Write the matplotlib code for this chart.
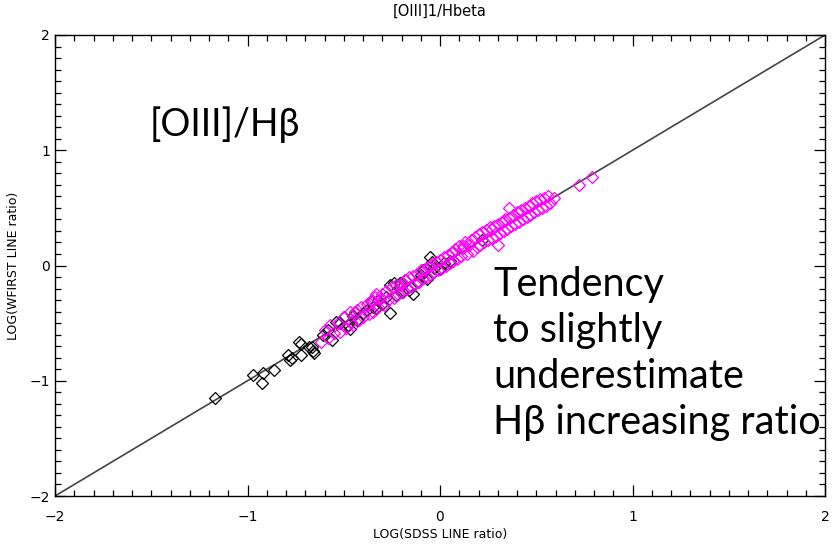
import matplotlib
matplotlib.use("Agg")
import matplotlib.pyplot as plt
from matplotlib.ticker import MultipleLocator

# ---------------- data ----------------
black_x = [-1.17, -0.97, -0.92, -0.925, -0.86, -0.79, -0.78, -0.77, -0.72, -0.72,
           -0.665, -0.655, -0.66, -0.73, -0.68, -0.61, -0.56, -0.54, -0.50, -0.45,
           -0.48, -0.52, -0.40, -0.38, -0.35, -0.32, -0.30, -0.26, -0.26, -0.23,
           -0.24, -0.21, -0.20, -0.16, -0.14, -0.12, -0.10, -0.07, -0.09, -0.05,
           -0.04, -0.03, 0.00, 0.02, 0.05, 0.22, -0.44, -0.47, -0.58, -0.28,
           -0.36, -0.18, -0.33, -0.43]
black_y = [-1.15, -0.95, -0.93, -1.02, -0.91, -0.78, -0.82, -0.80, -0.68, -0.78,
           -0.71, -0.76, -0.74, -0.66, -0.71, -0.60, -0.65, -0.49, -0.45, -0.44,
           -0.52, -0.50, -0.41, -0.39, -0.36, -0.30, -0.33, -0.41, -0.17, -0.26,
           -0.15, -0.15, -0.23, -0.21, -0.25, -0.14, -0.08, -0.12, -0.04, 0.07,
           0.03, -0.02, -0.03, 0.02, 0.04, 0.22, -0.40, -0.55, -0.56, -0.27,
           -0.31, -0.13, -0.37, -0.47]

mag_x = [-0.62, -0.60, -0.58, -0.57, -0.55, -0.53, -0.52, -0.50, -0.49, -0.47,
         -0.46, -0.45, -0.43, -0.42, -0.41, -0.40, -0.38, -0.37, -0.36, -0.35,
         -0.34, -0.33, -0.32, -0.31, -0.30, -0.29, -0.28, -0.27, -0.25, -0.24,
         -0.23, -0.22, -0.20, -0.19, -0.18, -0.17, -0.16, -0.15, -0.14, -0.13,
         -0.12, -0.11, -0.10, -0.09, -0.08, -0.07, -0.06, -0.05, -0.04, -0.03,
         -0.02, -0.01, 0.00, 0.01, 0.02, 0.03, 0.04, 0.05, 0.06, 0.07,
         0.08, 0.09, 0.10, 0.11, 0.12, 0.13, 0.14, 0.15, 0.16, 0.17,
         0.18, 0.19, 0.20, 0.21, 0.22, 0.23, 0.24, 0.25, 0.26, 0.27,
         0.28, 0.29, 0.30, 0.30, 0.31, 0.32, 0.33, 0.34, 0.35, 0.36,
         0.36, 0.37, 0.38, 0.39, 0.40, 0.41, 0.42, 0.43, 0.44, 0.45,
         0.46, 0.47, 0.48, 0.49, 0.50, 0.51, 0.52, 0.53, 0.54, 0.55,
         0.56, 0.57, 0.59, 0.72, 0.79, -0.44, -0.21, 0.06, 0.27, 0.47,
         -0.35, 0.12, 0.41, -0.05, 0.33]
mag_y = [-0.66, -0.56, -0.63, -0.52, -0.59, -0.50, -0.58, -0.45, -0.54, -0.40,
         -0.49, -0.52, -0.39, -0.47, -0.36, -0.45, -0.33, -0.42, -0.31, -0.40,
         -0.27, -0.25, -0.36, -0.29, -0.25, -0.34, -0.22, -0.30, -0.19, -0.28,
         -0.17, -0.25, -0.15, -0.23, -0.13, -0.20, -0.10, -0.18, -0.09, -0.16,
         -0.07, -0.14, -0.04, -0.11, -0.03, -0.10, -0.01, -0.08, 0.01, -0.06,
         0.03, -0.04, 0.05, -0.02, 0.07, 0.00, 0.09, 0.02, 0.12, 0.04,
         0.14, 0.06, 0.17, 0.08, 0.15, 0.20, 0.10, 0.18, 0.22, 0.13,
         0.25, 0.16, 0.27, 0.18, 0.29, 0.20, 0.31, 0.22, 0.33, 0.24,
         0.34, 0.26, 0.18, 0.36, 0.28, 0.38, 0.30, 0.40, 0.32, 0.50,
         0.41, 0.34, 0.44, 0.36, 0.46, 0.38, 0.48, 0.40, 0.50, 0.42,
         0.52, 0.44, 0.54, 0.46, 0.56, 0.48, 0.58, 0.50, 0.59, 0.52,
         0.60, 0.54, 0.59, 0.70, 0.77, -0.40, -0.17, 0.11, 0.32, 0.52,
         -0.31, 0.17, 0.46, 0.00, 0.39]

x_ticks = [-2, -1, 0, 1, 2]
y_ticks = [-2, -1, 0, 1, 2]
title = "[OIII]1/Hbeta"
xlabel = "LOG(SDSS LINE ratio)"
ylabel = "LOG(WFIRST LINE ratio)"

# ---------------- figure ----------------
W, H = 840, 548
fig = plt.figure(figsize=(W / 100, H / 100), dpi=100)
ax = fig.add_axes([55 / W, 1 - 496 / H, (825 - 55) / W, (496 - 35) / H])

ax.plot([-2, 2], [-2, 2], color="#444444", lw=1.2, zorder=1)
ax.plot(black_x, black_y, linestyle="none", marker="D", ms=6.3, mfc="none",
        mec="black", mew=0.9, zorder=2)
ax.plot(mag_x, mag_y, linestyle="none", marker="D", ms=6.3, mfc="none",
        mec="#ff00ff", mew=0.9, zorder=3)

ax.set_xlim(-2, 2)
ax.set_ylim(-2, 2)
ax.set_xticks(x_ticks)
ax.set_yticks(y_ticks)
ax.xaxis.set_minor_locator(MultipleLocator(0.1))
ax.yaxis.set_minor_locator(MultipleLocator(0.1))
ax.tick_params(which="both", direction="in", top=True, right=True,
               labelsize=10, width=0.9, color="black")
ax.tick_params(axis="x", which="major", pad=10)
ax.tick_params(which="major", length=8)
ax.tick_params(which="minor", length=4)
for s in ax.spines.values():
    s.set_linewidth(1.0)

ax.set_title(title, fontsize=10.5, pad=14)
ax.set_xlabel(xlabel, fontsize=9, labelpad=3)
ax.set_ylabel(ylabel, fontsize=9)
ax.yaxis.set_label_coords(-35 / 770, 0.5)

fam = ["Lato", "DejaVu Sans"]
fig.text(150 / W, 1 - 125 / H, "[OIII]/Hβ", fontsize=27, family=fam,
         ha="left", va="center")
fig.text(493 / W, 1 - 266 / H,
         "Tendency\nto slightly\nunderestimate\nHβ increasing ratio",
         fontsize=28.5, family=fam, ha="left", va="top", linespacing=1.3)

fig.savefig("out.png", dpi=100)
